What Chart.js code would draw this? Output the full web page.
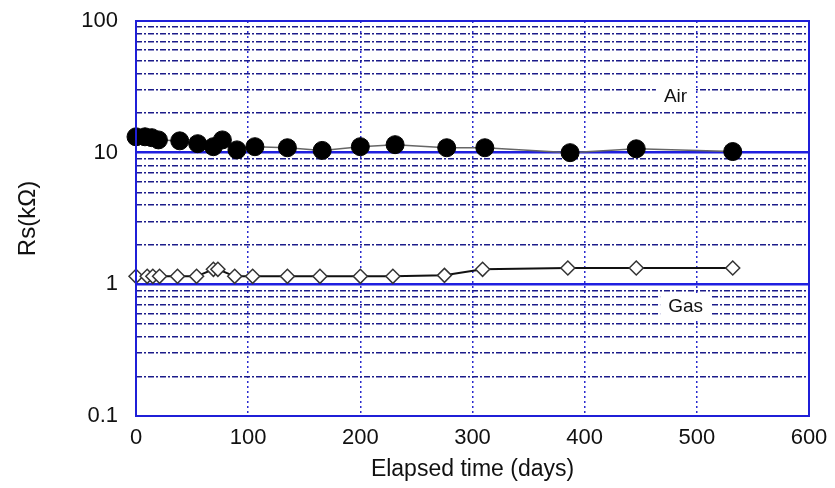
<!DOCTYPE html>
<html>
<head>
<meta charset="utf-8">
<script src="https://cdn.jsdelivr.net/npm/chart.js@4.4.1/dist/chart.umd.min.js"></script>
<style>
  html, body { margin: 0; padding: 0; background: #fff; }
  #wrap { width: 835px; height: 488px; }
</style>
</head>
<body>
<div id="wrap"><canvas id="rsChart" width="835" height="488"></canvas></div>
<script>
// Elapsed days and resistance readings (kOhm)
const airDays = [0, 8, 14, 20, 39, 55, 69, 77, 90, 106, 135, 166, 200, 231, 277, 311, 387, 446, 532];
const airRs = [13.2, 13.2, 13.0, 12.5, 12.3, 11.7, 11.1, 12.5, 10.5, 11.1, 10.9, 10.4, 11.1, 11.5, 10.9, 10.9, 10.0, 10.7, 10.2];

const gasDays = [0, 10, 15, 21, 37, 54, 69, 73, 88, 104, 135, 164, 200, 229, 275, 309, 385, 446, 532];
const gasRs = [1.15, 1.15, 1.15, 1.15, 1.15, 1.15, 1.3, 1.3, 1.15, 1.15, 1.15, 1.15, 1.15, 1.15, 1.17, 1.3, 1.33, 1.33, 1.33];

const xTicks = [0, 100, 200, 300, 400, 500, 600];
const yDecades = [0.1, 1, 10, 100];

// labels placed inside the plot
const seriesLabels = [
    { text: 'Air', x: 481, y: 26.5 },
    { text: 'Gas', x: 490, y: 0.68 }
];

const FONT = '"Liberation Sans", Arial, sans-serif';

const toPoints = (xs, ys) => xs.map((d, i) => ({ x: d, y: ys[i] }));

function isDecade(v) {
    return yDecades.some(d => Math.abs(v - d) / d < 1e-6);
}

// white-boxed text labels and the closed frame
const labelPlugin = {
    id: 'labelPlugin',
    afterDatasetsDraw(chart) {
        const ctx = chart.ctx;
        const xs = chart.scales.x, ys = chart.scales.y;
        ctx.save();
        ctx.font = '19px ' + FONT;
        ctx.textAlign = 'center';
        ctx.textBaseline = 'middle';
        seriesLabels.forEach(l => {
            const px = xs.getPixelForValue(l.x);
            const py = ys.getPixelForValue(l.y);
            const w = ctx.measureText(l.text).width + 16;
            ctx.fillStyle = '#fff';
            ctx.fillRect(px - w / 2, py - 12, w, 24);
            ctx.fillStyle = '#111';
            ctx.fillText(l.text, px, py);
        });
        const a = chart.chartArea;
        ctx.strokeStyle = '#1f1fd8';
        ctx.lineWidth = 2;
        ctx.strokeRect(a.left, a.top, a.right - a.left, a.bottom - a.top);
        ctx.restore();
    }
};

const ctx = document.getElementById('rsChart').getContext('2d');
new Chart(ctx, {
    type: 'scatter',
    data: {
        datasets: [
            {
                label: 'Air',
                data: toPoints(airDays, airRs),
                showLine: true,
                borderColor: '#666',
                borderWidth: 1.5,
                pointRadius: 9,
                pointBackgroundColor: '#000',
                pointBorderColor: '#000',
                pointBorderWidth: 1
            },
            {
                label: 'Gas',
                data: toPoints(gasDays, gasRs),
                showLine: true,
                borderColor: '#111',
                borderWidth: 2,
                pointStyle: 'rectRot',
                pointRadius: 7,
                pointBackgroundColor: '#fff',
                pointBorderColor: '#333',
                pointBorderWidth: 1.5
            }
        ]
    },
    options: {
        responsive: false,
        animation: false,
        clip: false,
        layout: { padding: { top: 21, right: 26, left: 0, bottom: 0 } },
        plugins: {
            legend: { display: false },
            tooltip: { enabled: false }
        },
        scales: {
            x: {
                type: 'linear',
                min: 0,
                max: 600,
                afterBuildTicks: s => { s.ticks = xTicks.map(v => ({ value: v })); },
                afterFit: s => { s.height = 72; s.paddingRight = 0; s.paddingLeft = 0; },
                grid: {
                    color: ctx => (ctx.tick && (ctx.tick.value === 0 || ctx.tick.value === 600)) ? 'rgba(0,0,0,0)' : '#2a2acf',
                    lineWidth: 1.5,
                    drawTicks: false
                },
                border: { display: false, dash: [2, 3] },
                ticks: {
                    padding: 9,
                    color: '#111',
                    font: { family: FONT, size: 22 }
                },
                title: {
                    display: true,
                    text: 'Elapsed time (days)',
                    color: '#111',
                    padding: { top: 0, bottom: 5 },
                    font: { family: FONT, size: 23 }
                }
            },
            y: {
                type: 'logarithmic',
                min: 0.1,
                max: 100,
                afterBuildTicks: s => {
                    const t = [];
                    [0.1, 1, 10].forEach(d => {
                        for (let k = 1; k < 10; k++) t.push({ value: d * k });
                    });
                    t.push({ value: 100 });
                    s.ticks = t;
                },
                afterFit: s => { s.width = 136; s.paddingTop = 0; s.paddingBottom = 0; },
                grid: {
                    color: ctx => {
                        const v = ctx.tick ? ctx.tick.value : 0;
                        if (v <= 0.1 + 1e-9 || v >= 100 - 1e-6) return 'rgba(0,0,0,0)';
                        return isDecade(v) ? '#1f1fe0' : '#1c1c8a';
                    },
                    lineWidth: ctx => (ctx.tick && isDecade(ctx.tick.value)) ? 2.5 : 1.5,
                    drawTicks: false
                },
                border: {
                    display: false,
                    dash: ctx => (ctx.tick && isDecade(ctx.tick.value)) ? [] : [6, 2, 2, 2]
                },
                ticks: {
                    padding: 18,
                    color: '#111',
                    autoSkip: false,
                    font: { family: FONT, size: 22 },
                    callback: v => isDecade(v) ? String(v) : ''
                },
                title: {
                    display: true,
                    text: 'Rs(kΩ)',
                    color: '#111',
                    padding: { bottom: 0, top: 14 },
                    font: { family: FONT, size: 24 }
                }
            }
        }
    },
    plugins: [labelPlugin]
});
</script>
</body>
</html>
